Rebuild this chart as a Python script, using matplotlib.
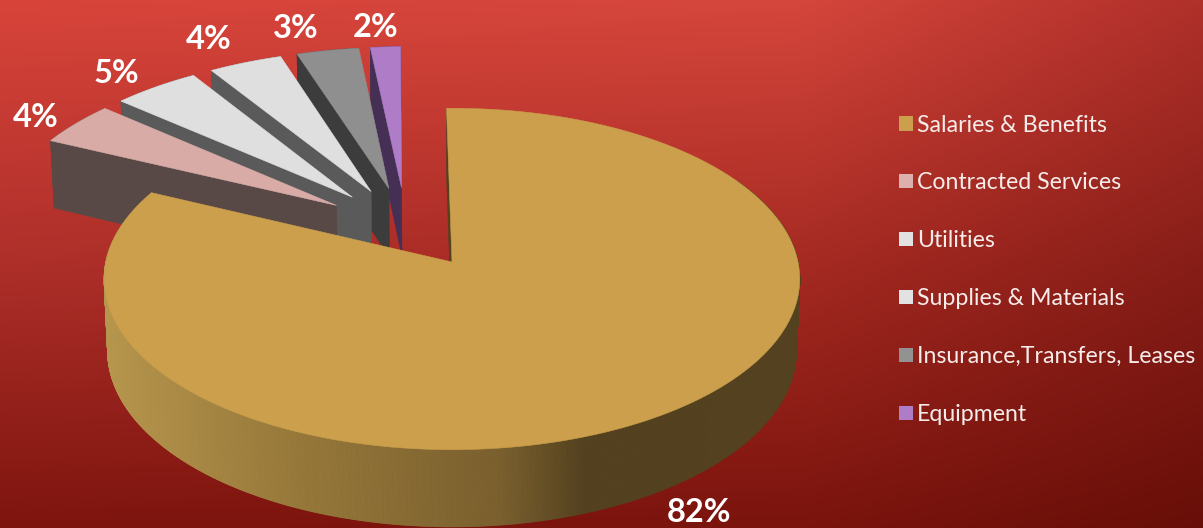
import numpy as np
import matplotlib
matplotlib.use("Agg")
import matplotlib.pyplot as plt
from matplotlib.collections import PolyCollection
from matplotlib.colors import to_rgb
from matplotlib.patches import Patch

categories = ["Salaries & Benefits", "Contracted Services", "Utilities",
              "Supplies & Materials", "Insurance,Transfers, Leases", "Equipment"]
shares = [82.3, 4.3, 4.6, 3.9, 3.3, 1.6]
top_colors = ["#CB9F4B", "#D8ABA6", "#DFDFDF", "#DFDFDF", "#8F8F8F", "#AF7CC8"]
wall_colors = ["#53411F", "#594946", "#5A5A5A", "#5A5A5A", "#3C3C3C", "#452F55"]

W, H = 1203, 528
CX, CY = 452.0, 262.0       # screen position of the main wedge's tip
RX, RY = 346.0, 169.0       # pie radius on screen
PERSP, PERSP_Z = 0.0994, 0.01
DEPTH = 72.0
EXPLODE = 0.25
START_DEG = -1.0
LABEL_NUDGE = [(18, -2), (-3, 5), (-12, 2), (-19, -5), (-24, -3), (-8, 0)]


def project(u, v, z=0.0):
    """Map pie-plane coordinates (unit radius) and height to screen pixels."""
    u, v = np.asarray(u, float), np.asarray(v, float)
    w = 1 + PERSP * v - PERSP_Z * z
    return CX + RX * u / w, CY - (RY * v + DEPTH * z) / w


def wedge_outline(apex, a0, a1, n=120):
    t = np.radians(np.linspace(a0, a1, n))
    return (np.r_[apex[0], apex[0] + np.sin(t)],
            np.r_[apex[1], apex[1] + np.cos(t)])


fig = plt.figure(figsize=(W / 100, H / 100), dpi=100)
ax = fig.add_axes([0, 0, 1, 1])
ax.set_xlim(0, W)
ax.set_ylim(H, 0)
ax.axis("off")

# Backdrop: red gradient blended between a coarse grid of corner and edge tones
grid_x = [0, 800, W]
grid_y = [0, 264, H]
grid_tones = [["#D8443A", "#D5463C", "#B0302A"],
              ["#AE2F2A", "#A52A22", "#871D17"],
              ["#7E140E", "#7A140D", "#680E08"]]
grid_rgb = np.array([[to_rgb(c) for c in row] for row in grid_tones])
px, py = np.arange(W) + 0.5, np.arange(H) + 0.5
backdrop = np.zeros((H, W, 3))
for ch in range(3):
    by_row = np.array([np.interp(px, grid_x, grid_rgb[r, :, ch]) for r in range(3)])
    for col in range(W):
        backdrop[:, col, ch] = np.interp(py, grid_y, by_row[:, col])
ax.imshow(backdrop, extent=[0, W, H, 0], aspect="auto", zorder=0)

# Angular extents, clockwise from the top
edges = START_DEG + np.r_[0, np.cumsum(shares)] * 360 / np.sum(shares)
mids = (edges[:-1] + edges[1:]) / 2
dirs = np.c_[np.sin(np.radians(mids)), np.cos(np.radians(mids))]
centre = -EXPLODE * dirs[0]
apexes = centre + EXPLODE * dirs
z_base = 10


def draw_poly(xs, ys, color, z):
    ax.fill(xs, ys, facecolor=color, edgecolor=color, lw=0.4, zorder=z)


# Small wedges, far ones first so nearer tops cover the walls behind them
for i in range(len(shares) - 1, 0, -1):
    z_base += 1
    apex = apexes[i]
    # Outer rim and the radial face on the wedge's leading side
    t = np.radians(np.linspace(edges[i], edges[i + 1], 40))
    ru, rv = apex[0] + np.sin(t), apex[1] + np.cos(t)
    x0, y0 = project(ru, rv)
    x1, y1 = project(ru, rv, -1.0)
    draw_poly(np.r_[x0, x1[::-1]], np.r_[y0, y1[::-1]], wall_colors[i], z_base)
    eu, ev = np.array([apex[0], ru[0]]), np.array([apex[1], rv[0]])
    x0, y0 = project(eu, ev)
    x1, y1 = project(eu, ev, -1.0)
    draw_poly(np.r_[x0, x1[::-1]], np.r_[y0, y1[::-1]], wall_colors[i], z_base)
    ou, ov = wedge_outline(apex, edges[i], edges[i + 1])
    x0, y0 = project(ou, ov)
    draw_poly(x0, y0, top_colors[i], z_base)

# Main wedge: shaded rim built from thin strips, then its sliver face and top
z_base += 1
shade_x = [105, 300, 500, 585, 800]
shade_rgb = np.array([to_rgb(c) for c in ["#B6954C", "#96783A", "#7A602E", "#53411F", "#53411F"]])
t = np.radians(np.linspace(60, edges[1], 900))
ru, rv = np.sin(t), np.cos(t)
x0, y0 = project(ru, rv)
x1, y1 = project(ru, rv, -1.0)
strips = [[(x0[j], y0[j]), (x0[j + 1], y0[j + 1]), (x1[j + 1], y1[j + 1]), (x1[j], y1[j])]
          for j in range(len(t) - 1)]
mid_x = (x0[:-1] + x0[1:]) / 2
strip_rgb = np.c_[[np.interp(mid_x, shade_x, shade_rgb[:, c]) for c in range(3)]].T
ax.add_collection(PolyCollection(strips, facecolors=strip_rgb, edgecolors=strip_rgb,
                                 linewidths=0.8, zorder=z_base))
eu = np.array([0.0, np.sin(np.radians(edges[0]))])
ev = np.array([0.0, np.cos(np.radians(edges[0]))])
x0, y0 = project(eu, ev)
x1, y1 = project(eu, ev, -1.0)
draw_poly(np.r_[x0, x1[::-1]], np.r_[y0, y1[::-1]], wall_colors[0], z_base)
ou, ov = wedge_outline((0.0, 0.0), edges[0], edges[1], n=400)
x0, y0 = project(ou, ov)
draw_poly(x0, y0, top_colors[0], z_base + 1)

# Percentage labels sit just past each wedge's rim
label_font = dict(family="Lato", fontweight="bold", fontsize=23.5, color="white",
                  ha="center", va="center", zorder=40)
for i, share in enumerate(shares):
    reach, height = (1.12, -1.0) if i == 0 else (1.15, 0.0)
    lx, ly = project(apexes[i][0] + reach * dirs[i][0],
                     apexes[i][1] + reach * dirs[i][1], height)
    ax.text(float(lx) + LABEL_NUDGE[i][0], float(ly) + LABEL_NUDGE[i][1],
            f"{round(share)}%", **label_font)

handles = [Patch(facecolor=c, edgecolor="none", label=n) for c, n in zip(
    ["#CB9F4B", "#DDB0AE", "#E2E2E2", "#E2E2E2", "#929292", "#AF7CC8"], categories)]
ax.legend(handles=handles, loc="upper left", bbox_to_anchor=(0.7475, 0.783),
          frameon=False, labelcolor="#F6ECEA", prop=dict(family="Lato", size=16.7),
          handlelength=0.58, handleheight=0.58, handletextpad=0.2,
          labelspacing=1.59, borderpad=0, borderaxespad=0)

fig.savefig("out.png", dpi=100)
